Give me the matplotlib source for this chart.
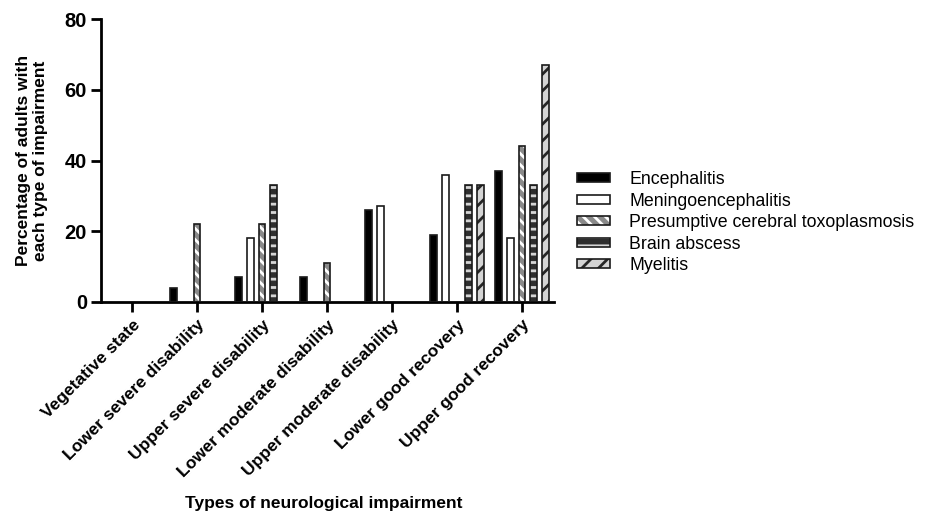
import numpy as np
import matplotlib
matplotlib.use("Agg")
from matplotlib import pyplot as plt
from matplotlib.patches import Patch
from matplotlib.legend_handler import HandlerTuple

plt.rcParams["font.family"] = ["Liberation Sans", "DejaVu Sans"]
plt.rcParams["hatch.linewidth"] = 2.0

categories = ["Vegetative state", "Lower severe disability", "Upper severe disability",
              "Lower moderate disability", "Upper moderate disability",
              "Lower good recovery", "Upper good recovery"]
encephalitis = [0, 4, 7, 7, 26, 19, 37]
meningoencephalitis = [0, 0, 18, 0, 27, 36, 18]
toxoplasmosis = [0, 22, 22, 11, 0, 0, 44]
brain_abscess = [0, 0, 33, 0, 0, 33, 33]
myelitis = [0, 0, 0, 0, 0, 33, 67]

# name, values, face colour, hatch, hatch colour
series = [
    ("Encephalitis", encephalitis, "black", None, "black"),
    ("Meningoencephalitis", meningoencephalitis, "white", None, "white"),
    ("Presumptive cerebral toxoplasmosis", toxoplasmosis, "#8a8a8a", "\\\\\\", "white"),
    ("Brain abscess", brain_abscess, "#2e2e2e", "--", "#d6d6d6"),
    ("Myelitis", myelitis, "#d4d4d4", "//", "#262626"),
]

fig = plt.figure(figsize=(9.26, 5.22), dpi=100)
ax = fig.add_axes([0.109, 0.4215, 0.489, 0.542])

x = np.arange(len(categories))
step = 0.18
width = 0.105
handles = []
for i, (name, vals, fc, hatch, hc) in enumerate(series):
    pos = x + (i - 2) * step
    ax.bar(pos, vals, width, color=fc, hatch=hatch, edgecolor=hc, linewidth=0, zorder=2)
    ax.bar(pos, vals, width, color="none", edgecolor="#1a1a1a", linewidth=1.2, zorder=3)
    handles.append((Patch(facecolor=fc, hatch=hatch, edgecolor=hc, linewidth=0),
                    Patch(facecolor="none", edgecolor="#1a1a1a", linewidth=1.2)))

ax.set_xlim(-0.48, 6.49)
ax.set_ylim(0, 80)
ax.set_yticks([0, 20, 40, 60, 80])
ax.set_xticks(x)
ax.set_xticklabels(categories, rotation=45, ha="right", rotation_mode="anchor",
                   fontsize=12.5, fontweight="bold")
for lab in ax.get_yticklabels():
    lab.set_fontsize(14.5)
    lab.set_fontweight("bold")
ax.tick_params(axis="both", width=2, length=7)
ax.tick_params(axis="x", pad=4)
ax.tick_params(axis="y", pad=3)
for s in ["top", "right"]:
    ax.spines[s].set_visible(False)
for s in ["left", "bottom"]:
    ax.spines[s].set_linewidth(2)

ax.set_ylabel("Percentage of adults with\neach type of impairment", fontsize=12.5,
              fontweight="bold", labelpad=12)
fig.text(0.35, 0.027, "Types of neurological impairment", fontsize=12.5,
         fontweight="bold", ha="center")

fig.legend(handles, [s[0] for s in series], loc="upper left",
           bbox_to_anchor=(0.623, 0.672), frameon=False, fontsize=12.8,
           borderpad=0, borderaxespad=0,
           handler_map={tuple: HandlerTuple(ndivide=1)},
           handlelength=1.85, handleheight=0.4, labelspacing=0.25, handletextpad=1.1)

fig.savefig("out.png", dpi=100)
